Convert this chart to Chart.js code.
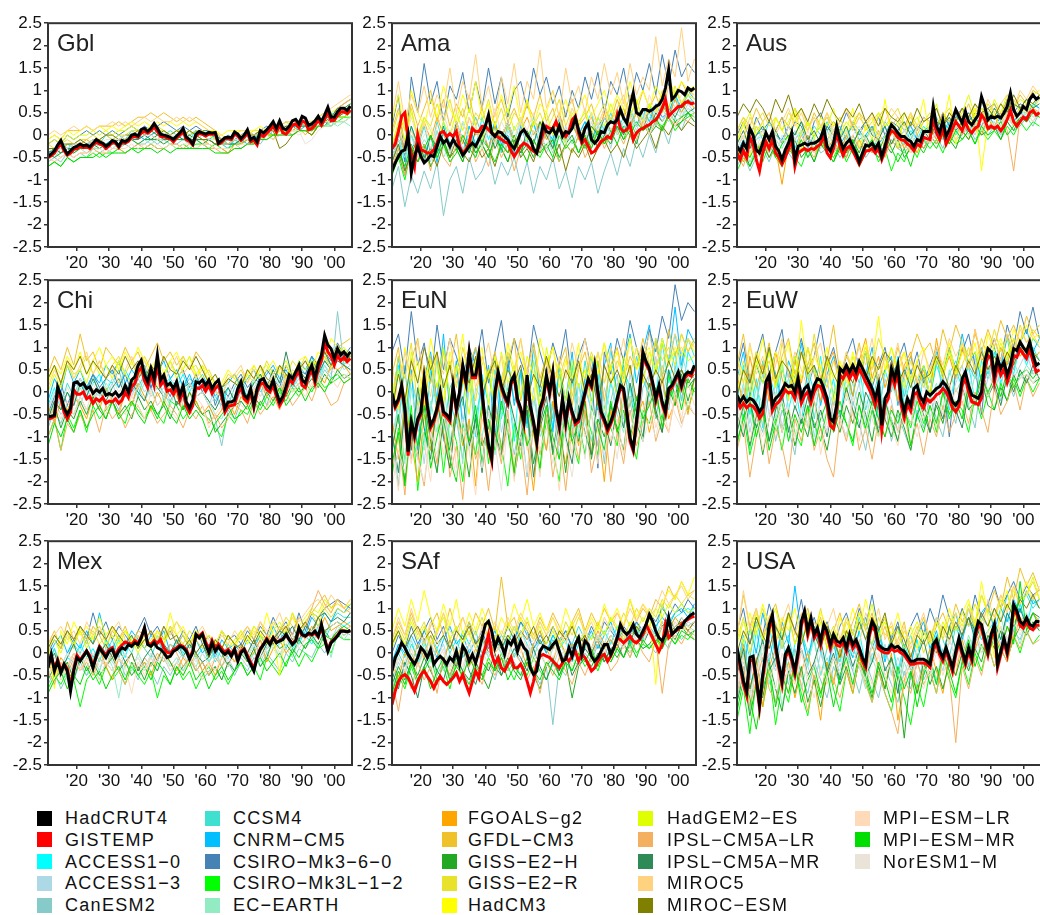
<!DOCTYPE html>
<html>
<head>
<meta charset="utf-8">
<script src="https://cdn.jsdelivr.net/npm/chart.js@4.4.1/dist/chart.umd.min.js"></script>
<style>
html,body{margin:0;padding:0;background:#fff;}
#wrap{position:relative;width:1040px;height:915px;overflow:hidden;background:#fff;font-family:'Liberation Sans',Arial,sans-serif;}
canvas{position:absolute;}
.ptitle{position:absolute;font-size:24px;line-height:24px;color:#222;white-space:nowrap;}
.sw{position:absolute;width:15px;height:15px;}
.lt{position:absolute;font-size:18px;line-height:18px;letter-spacing:1.3px;color:#111;white-space:nowrap;}
</style>
</head>
<body>
<div id="wrap"></div>
<script>
// ---------------- axes / categories ----------------
const firstYear = 1911, lastYear = 2005;
const modelYears = [1911,1913,1915,1917,1919,1921,1923,1925,1927,1929,1931,1933,1935,1937,1939,1941,1943,1945,1947,1949,1951,1953,1955,1957,1959,1961,1963,1965,1967,1969,1971,1973,1975,1977,1979,1981,1983,1985,1987,1989,1991,1993,1995,1997,1999,2001,2003,2005];
const xTickYears = [1920,1930,1940,1950,1960,1970,1980,1990,2000];
const xTickLabels = ["'20","'30","'40","'50","'60","'70","'80","'90","'00"];
const yTickValues = [-2.5,-2,-1.5,-1,-0.5,0,0.5,1,1.5,2,2.5];
const panelNames = ["Gbl","Ama","Aus","Chi","EuN","EuW","Mex","SAf","USA"];

const obsNames = ["HadCRUT4","GISTEMP"];
const obsColors = ["#000000","#ff0000"];
const modelNames = ["ACCESS1-0","ACCESS1-3","CanESM2","CCSM4","CNRM-CM5","CSIRO-Mk3-6-0","CSIRO-Mk3L-1-2","EC-EARTH","FGOALS-g2","GFDL-CM3","GISS-E2-H","GISS-E2-R","HadCM3","HadGEM2-ES","IPSL-CM5A-LR","IPSL-CM5A-MR","MIROC5","MIROC-ESM","MPI-ESM-LR","MPI-ESM-MR","NorESM1-M"];
const modelColors = ["#00ffff","#add8e6","#86cbc9","#40e0d0","#00bfff","#4682b4","#00ff00","#93ebc4","#ffa500","#efc22b","#22a822","#e8e22a","#ffff00","#dfff00","#f4b060","#2e8b57","#ffd280","#808000","#ffdab9","#00dd00","#eae3d8"];

// ---------------- Gbl ----------------
const gblHadCRUT4 = [-.48,-.42,-.35,-.22,-.12,-.30,-.42,-.35,-.28,-.25, -.20,-.24,-.22,-.26,-.18,-.10,-.15,-.18,-.25,-.20, -.12,-.15,-.25,-.12,-.15,-.10,0,.02,-.02,.12, .15,.08,.15,.26,.15,.02,0,-.02,-.05,-.10, -.02,.05,.15,-.05,-.10,-.20,.02,.08,.05,.02, .06,.05,.06,-.18,-.12,-.06,-.05,-.06,.07,.02, -.08,0,.12,-.10,-.05,-.15,.10,.05,.12,.20, .30,.15,.32,.15,.12,.20,.32,.35,.25,.42, .38,.22,.25,.32,.42,.30,.45,.62,.40,.40, .52,.60,.60,.55,.65];
const gblGISTEMP = [-.50,-.46,-.40,-.28,-.20,-.35,-.45,-.40,-.32,-.30, -.25,-.28,-.26,-.30,-.22,-.15,-.20,-.22,-.30,-.24, -.16,-.18,-.28,-.16,-.18,-.14,-.05,-.03,-.05,.05, .08,.04,.10,.18,.08,-.03,-.04,-.06,-.08,-.15, -.06,0,.08,-.10,-.14,-.22,-.02,.04,.02,-.02, .02,.02,.02,-.20,-.16,-.08,-.08,-.10,.02,-.02, -.12,-.05,.05,-.15,-.12,-.22,.02,-.03,.04,.12, .20,.06,.22,.05,.02,.10,.22,.25,.16,.32, .28,.12,.15,.22,.34,.22,.35,.52,.32,.33, .45,.52,.52,.48,.56];
const gblModels = [
[-.4,-.3,-.3,-.2,-.3,-.2,-.3,-.2,-.1,-.2,-.1,-.2,-.1,0,-.1,0,.1,0,.1,0,.1,0,-.1,.1,0,.1,-.1,-.2,-.1,-.2,-.1,0,-.1,.1,0,.1,.2,.1,.2,.3,.2,.1,.3,.4,.5,.4,.6,.6],
[-.4,-.5,-.3,-.4,-.3,-.3,-.2,-.3,-.2,-.3,-.2,-.1,-.2,-.1,0,-.1,0,-.1,.1,0,-.1,0,.1,-.1,0,-.1,0,-.2,-.3,-.1,-.2,-.1,0,-.1,.1,0,.1,.2,.1,.2,.3,.1,.2,.4,.3,.5,.5,.7],
[-.6,-.5,-.6,-.4,-.5,-.4,-.5,-.3,-.4,-.3,-.4,-.3,-.2,-.3,-.2,-.2,-.1,-.2,-.1,-.2,-.2,-.1,-.2,-.1,-.2,-.2,-.3,-.3,-.4,-.2,-.3,-.2,-.1,-.2,0,-.1,0,.1,0,.1,.1,0,.2,.3,.2,.4,.5,.7],
[-.3,-.4,-.2,-.3,-.2,-.1,-.2,-.1,-.2,0,-.1,0,-.1,.1,0,.1,0,.1,0,.1,0,.1,0,.1,0,-.1,-.1,-.2,-.3,-.1,-.2,0,-.1,.1,0,.1,.2,.1,.2,.3,.2,.3,.4,.5,.4,.6,.7,.8],
[-.4,-.3,-.4,-.3,-.2,-.3,-.2,-.2,-.1,-.2,-.1,-.2,-.1,-.1,0,-.1,0,.1,0,-.1,0,-.1,0,.1,0,-.1,0,-.1,-.2,-.2,-.1,-.2,0,-.1,.1,0,.1,.1,.2,.1,.2,.1,.2,.3,.3,.4,.4,.5],
[-.2,-.1,-.2,0,-.1,0,.1,0,.1,0,.1,0,.1,.2,.1,.2,.1,.2,.3,.2,.1,.2,.1,.2,.1,.1,0,-.1,0,-.1,0,.1,0,.1,.2,.1,.2,.3,.2,.3,.3,.2,.3,.2,.4,.4,.5,.5],
[-.7,-.6,-.7,-.5,-.6,-.5,-.5,-.4,-.5,-.4,-.4,-.3,-.4,-.3,-.3,-.3,-.2,-.3,-.3,-.2,-.3,-.2,-.3,-.2,-.2,-.3,-.2,-.3,-.3,-.2,-.2,-.1,-.2,-.1,0,0,0,.1,0,.1,.1,.2,.2,.2,.3,.3,.4,.4],
[-.5,-.4,-.5,-.4,-.4,-.3,-.4,-.3,-.3,-.2,-.3,-.2,-.2,-.1,-.2,-.1,-.2,-.1,-.1,-.2,-.1,-.1,-.2,-.1,-.1,-.1,-.2,-.2,-.2,-.1,-.1,-.1,0,0,0,.1,0,.1,.1,.2,.2,.1,.2,.2,.3,.2,.3,.2],
[-.3,-.3,-.4,-.2,-.2,-.2,-.1,-.2,-.1,-.2,-.2,-.1,-.1,0,0,.1,0,-.1,0,-.1,0,.1,-.1,0,-.1,-.2,-.3,-.3,-.4,-.2,-.2,-.1,-.1,0,0,.1,.1,.2,.1,.2,.2,.1,.3,.4,.4,.5,.5,.6],
[-.1,0,-.1,.1,.1,.1,.2,.1,.2,.2,.2,.3,.2,.3,.4,.4,.5,.4,.5,.4,.3,.4,.3,.4,.3,.2,.1,-.1,-.2,-.1,-.1,0,0,.1,0,-.1,.1,.2,.1,.2,0,.2,.3,.4,.4,.6,.7,.8],
[-.4,-.5,-.4,-.3,-.4,-.3,-.3,-.2,-.3,-.2,-.2,-.2,-.2,-.1,-.2,-.1,-.1,-.1,-.2,-.1,-.1,-.1,-.1,-.1,-.2,-.1,-.2,-.2,-.2,-.1,-.1,-.1,-.1,0,0,0,.1,.1,.1,.1,.1,0,.2,.3,.3,.4,.4,.5],
[-.2,-.3,-.2,-.1,-.2,-.1,-.1,0,-.1,0,-.1,0,0,.1,.1,.1,.1,.2,.1,0,.1,.1,0,.1,.1,0,-.1,-.1,-.1,0,0,0,.1,.1,.1,.1,.2,.2,.2,.2,.2,.1,.3,.4,.4,.5,.5,.6],
[-.1,0,-.1,.1,0,.1,.2,.1,.2,.1,.2,.1,.2,.3,.2,.3,.2,.3,.2,.3,.2,.3,.2,.3,.2,.1,.1,0,.1,.1,.1,.1,.1,.2,.1,.2,.2,.3,.2,.3,.3,.3,.4,.5,.5,.6,.6,.7],
[-.2,-.1,-.2,0,-.1,0,0,.1,0,.1,0,.1,.1,.2,.1,.1,.2,.1,.1,0,.1,0,.1,0,.1,0,-.1,-.2,-.2,-.1,-.1,-.1,0,0,0,0,.1,.1,.1,.1,.1,0,.2,.3,.3,.4,.4,.5],
[-.5,-.6,-.5,-.4,-.5,-.4,-.4,-.3,-.4,-.4,-.3,-.3,-.4,-.3,-.2,-.3,-.2,-.3,-.3,-.2,-.2,-.3,-.2,-.3,-.2,-.3,-.3,-.4,-.4,-.3,-.3,-.2,-.2,-.1,-.1,0,0,.1,0,.1,.1,.1,.2,.4,.4,.6,.7,.8],
[-.4,-.3,-.4,-.3,-.3,-.2,-.3,-.2,-.2,-.2,-.2,-.1,-.2,-.1,-.1,0,-.1,0,-.1,-.1,0,-.1,0,-.1,-.1,-.1,-.2,-.2,-.2,-.2,-.1,-.1,0,0,.1,.1,.1,.2,.2,.2,.2,.2,.3,.4,.4,.6,.6,.7],
[0,.1,0,.1,.2,.1,.2,.1,.2,.2,.3,.2,.3,.2,.3,.4,.3,.4,.3,.3,.4,.3,.4,.3,.2,.1,0,0,-.1,0,.1,.1,0,.1,.1,.2,.2,.3,.3,.3,.3,.3,.4,.5,.6,.7,.8,.9],
[-.3,-.3,-.2,-.2,-.2,-.1,-.2,-.1,-.1,0,0,-.1,0,0,.1,0,.1,0,.1,0,.1,0,.1,0,-.1,-.1,-.2,-.2,-.2,-.1,-.1,0,0,.1,0,.1,-.3,-.2,0,.1,.1,0,.2,.3,.4,.4,.5,.6],
[-.5,-.6,-.5,-.4,-.5,-.4,-.4,-.4,-.3,-.4,-.3,-.3,-.3,-.2,-.3,-.2,-.3,-.2,-.3,-.2,-.3,-.2,-.2,-.3,-.2,-.2,-.3,-.3,-.3,-.3,-.2,-.2,-.1,-.1,0,-.1,0,0,.1,0,.1,.1,.2,.3,.3,.5,.5,.6],
[-.7,-.6,-.7,-.5,-.6,-.5,-.5,-.5,-.4,-.5,-.4,-.4,-.4,-.3,-.4,-.3,-.3,-.4,-.3,-.4,-.3,-.3,-.3,-.3,-.3,-.3,-.4,-.4,-.4,-.3,-.3,-.2,-.2,-.1,-.1,0,0,0,0,.1,.1,.1,.2,.2,.2,.3,.3,.4],
[-.3,-.4,-.3,-.3,-.2,-.2,-.2,-.1,-.2,-.1,-.1,-.1,0,-.1,0,0,0,-.1,0,0,0,0,-.1,0,0,-.1,-.1,-.2,-.2,-.1,-.1,-.1,0,0,0,.1,.1,0,.1,.1,-.2,-.1,.1,.2,.2,.3,.3,.4]
];

// ---------------- Ama ----------------
const amaHadCRUT4 = [-.80,-.62,-.48,-.36,-.33,0,-.85,-.48,-.25,-.48, -.62,-.55,-.45,-.48,-.25,-.03,-.18,-.10,-.25,-.10, -.22,-.30,-.45,-.36,-.25,-.18,-.25,-.10,.05,.20, .45,.05,-.03,.08,.05,-.03,-.10,-.22,-.30,-.14, .05,.12,0,-.10,-.30,-.40,-.10,.23,.08,.05, .15,0,.20,-.03,.08,.05,.15,.38,.12,-.10, .15,.27,-.10,-.18,-.10,.08,.05,.23,.30,.27, .34,.57,.38,.27,.64,.94,.50,.45,.57,.57, .53,.57,.64,.68,.80,1.05,1.46,.80,.87,1.0, .97,.90,1.05,1.0,1.05];
const amaGISTEMP = [-.30,-.20,.08,.42,.50,-.10,-.40,-.70,0,-.33, -.36,-.40,-.40,-.33,-.18,.05,.08,-.03,.03,-.03, .08,-.25,-.40,-.33,-.18,.15,.08,.08,.20,.20, .12,.05,0,-.05,-.10,-.15,-.18,-.35,-.48,-.36, -.25,-.18,-.22,-.30,-.36,-.40,-.18,.05,.20,.15, .15,.30,.12,.05,-.03,.08,.34,.42,.05,-.18, -.10,-.25,-.40,-.36,-.25,-.14,-.10,-.03,-.07,.12, .45,.15,.08,.12,.23,-.10,.05,.12,.15,.20, .23,.30,.34,.45,.60,.80,.42,.50,.57,.64, .64,.72,.75,.70,.72];
const amaModels = [
[-.5,-.1,-.6,.2,-.3,-.5,0,-.4,.3,-.2,0,-.4,.2,-.3,.4,-.1,.3,-.3,.2,-.2,.4,-.1,.3,-.3,.2,-.2,.4,0,.3,-.1,.2,.5,-.1,.4,0,.5,.1,.6,.2,.4,.7,.2,.8,.4,.9,.5,.8,.7],
[-.8,-.3,-.7,0,-.5,-.2,-.6,.1,-.3,-.5,.1,-.3,-.1,-.5,.2,-.3,0,-.4,.1,-.2,-.5,.1,-.2,.2,-.4,0,-.3,.2,-.2,.1,-.2,.3,-.1,.2,-.3,.3,0,.4,.1,.5,.2,.6,.3,.5,.8,.4,.7,.5],
[-1.2,-.7,-1.6,-.9,-1.3,-.8,-1.2,-.6,-1.8,-1.0,-.7,-1.3,-.5,-1.0,-.8,-.4,-1.1,-.6,-.9,-.5,-1.1,-.6,-1.3,-.7,-1.0,-.5,-1.2,-.8,-1.4,-.7,-1.0,-.6,-1.3,-.8,-.4,-.9,-.3,-.7,-.1,-.5,0,-.4,.2,-.2,.4,.1,.5,.3],
[-.4,.1,-.5,0,-.3,.2,-.4,.3,-.2,.1,-.3,.3,-.1,.4,0,-.3,.2,-.4,.3,-.1,.3,-.2,.4,0,.2,-.3,.3,-.1,.4,0,.3,-.2,.4,.1,.5,.1,.4,.2,.6,.3,.5,.2,.7,.4,.8,.6,.9,.7],
[-.6,-.2,-.8,-.3,-.1,-.5,0,-.6,.1,-.3,-.1,-.5,.2,-.2,.1,-.3,.3,-.2,0,-.4,.2,-.2,.3,-.3,.1,-.1,.4,-.2,.2,0,.3,-.1,.2,.4,0,.4,.1,.5,.2,.6,.3,.7,.4,.5,.9,.6,1.0,.8],
[.2,.9,-.6,1.3,.5,1.6,.7,1.2,.3,1.1,.8,1.4,.5,1.2,.6,1.5,.7,1.3,.4,1.0,1.2,.6,1.5,.9,1.3,.7,1.1,.4,1.0,.6,1.3,.8,1.4,.5,1.2,.9,1.5,.7,1.4,1.0,1.6,.9,1.8,1.1,1.9,1.3,1.6,1.4],
[-.9,-.5,-1.0,-.3,-.6,-.2,-.7,-.4,-.1,-.5,-.3,-.6,0,-.4,-.2,-.5,-.1,-.3,-.6,-.2,-.4,0,-.3,-.5,-.2,-.1,-.6,-.2,-.4,0,-.3,-.1,.1,-.2,0,.2,-.1,.3,0,.2,.1,.3,.2,.4,.1,.3,.4,.5],
[-.6,-.2,-.5,0,-.4,-.1,-.3,.1,-.5,-.2,0,-.4,-.1,.2,-.3,.1,-.2,0,-.4,.2,-.1,-.3,.1,-.2,0,-.4,.1,-.2,.3,-.1,.1,-.3,.2,-.1,.4,0,.3,.1,.5,.2,.4,.2,.6,.3,.5,.4,.6,.5],
[-.3,.2,-.4,.1,-.2,.3,-.1,.4,0,-.3,.2,-.2,.4,0,.1,-.3,.2,-.1,.3,-.2,.1,.4,0,.3,-.1,.2,.5,0,.3,-.1,.2,.4,0,.5,.1,.3,.6,.2,.5,.1,.6,.3,.7,.4,.8,.5,.8,.6],
[.1,.6,-.2,.7,.2,.6,1.0,.3,.8,.2,.7,.4,.9,.2,.6,.1,.5,.8,.3,.6,.2,.7,.4,.9,.3,.6,.1,.5,.8,.2,.4,.7,.2,.6,.3,.8,.4,.9,.5,1.0,.6,.9,.5,1.1,.8,1.2,.9,1.0],
[-.8,-.4,-.9,-.3,-.6,-.2,-.7,-.4,-.1,-.5,-.3,-.6,-.1,-.4,-.2,-.5,0,-.3,-.6,-.1,-.4,-.2,-.5,0,-.3,-.1,-.5,-.2,0,-.4,-.1,.1,-.3,0,-.2,.2,-.1,.1,-.2,.3,0,.2,.1,.4,.2,.3,.5,.3],
[0,.5,.1,.6,-.1,.4,.2,.7,.3,.8,.2,.6,0,.5,.3,.8,.2,.6,.1,.5,.3,.7,.2,.5,.1,.4,.8,.2,.6,.3,.5,0,.4,.7,.3,.6,.9,.4,.8,.3,.7,.5,1.0,.6,1.1,.7,1.0,.9],
[.3,.9,.1,1.0,.5,.2,.8,.4,1.1,.6,.3,.9,.5,1.2,.4,.7,.2,.9,.5,1.1,.3,.8,.2,.7,.5,1.0,.4,.8,.3,.6,.9,.4,.7,1.0,.5,.9,.6,1.2,.7,1.0,.6,1.1,.8,1.3,.9,1.2,1.0,1.1],
[-.2,.3,-.1,.5,0,.4,.1,-.2,.3,0,.5,.1,.6,.2,-.1,.4,0,.3,.6,.1,.4,-.1,.3,.2,.5,0,.3,-.2,.5,.2,.6,.1,.4,.2,.7,.3,.6,.4,.8,.3,.7,.5,.9,.6,1.0,.7,.9,.8],
[-.7,-.3,-.9,-.4,-.6,-.2,-.8,-.1,-.5,-.7,-.2,-.4,0,-.6,-.3,-.7,-.1,-.5,-.2,-.8,-.3,-.6,-.1,-.4,.1,-.3,-.6,-.2,-.4,0,-.5,-.2,.1,-.3,0,.1,-.2,.2,-.1,.3,0,.3,.1,.4,.2,.4,.3,.5],
[-.5,-.1,-.4,.2,-.2,-.6,0,-.3,.2,-.4,.3,-.1,-.4,.1,-.2,.2,-.3,0,.3,-.1,-.4,.1,-.2,.3,0,-.3,.2,-.1,.3,.1,-.2,.2,0,.4,.1,.3,0,.5,.2,.4,.1,.5,.3,.6,.4,.7,.5,.6],
[.4,1.2,.3,.9,.5,1.1,.4,.9,.6,1.5,.5,1.2,.8,1.8,.6,1.1,.4,1.3,.7,1.6,.5,1.2,.8,1.9,.6,1.0,.4,1.5,.7,1.1,.5,1.3,.8,1.6,.9,1.4,.7,1.6,.9,1.3,1.0,2.2,1.1,1.7,1.3,2.4,1.2,1.7],
[-.6,-.2,-.8,-.4,-.1,-.5,-.3,-.7,-.2,-.5,-.1,-.4,-.6,-.2,-.5,-.3,-.7,-.2,-.4,0,-.5,-.3,-.6,-.1,-.4,-.6,-.2,-.8,-.3,-.5,-.2,-.6,-.3,-.1,-.4,-.2,-.5,0,-.3,-.1,.1,-.3,.2,0,.3,.1,.3,.2],
[-.4,.1,-.2,.4,-.1,.3,-.3,.2,.5,0,.3,-.1,.4,.1,-.3,.2,.6,0,.3,-.1,.4,.1,.5,-.2,.3,.1,.4,-.1,.6,.2,-.2,.5,.2,.6,.1,.4,.8,.3,.6,.2,.9,.5,.7,1.1,.6,.9,1.1,.8],
[-.9,-.4,-.7,-.2,-.6,-.3,0,-.5,-.2,-.6,-.4,0,-.3,-.5,-.1,-.3,-.6,-.2,-.4,0,-.3,-.6,-.1,-.4,-.2,-.5,0,-.3,-.1,-.4,0,-.3,.1,-.2,.1,-.2,.2,0,.3,.1,.2,.4,.1,.5,.3,.4,.5,.4],
[-.5,-.1,-.4,.1,-.3,0,.2,-.2,.1,-.4,0,.3,-.1,.2,-.3,.1,-.2,.3,0,-.1,.3,-.2,.1,0,-.3,.2,0,-.2,.3,.1,-.1,.3,.1,.4,0,.3,.1,.5,.2,.4,0,.4,.3,.6,.2,.5,.6,.4]
];

// ---------------- Aus ----------------
const ausHadCRUT4 = [-.25,-.36,-.18,-.30,.15,0,-.33,-.40,-.18,.05, -.10,.08,-.25,-.36,-.55,-.33,-.18,.05,-.55,-.25, -.22,-.18,-.22,-.18,-.18,-.14,-.07,.15,-.25,-.36, -.18,.20,-.10,-.30,-.18,-.10,-.25,-.40,-.60,-.40, -.22,-.25,-.18,-.30,-.18,-.48,-.25,.05,.23,.15, .05,-.03,-.03,-.10,-.14,-.25,-.10,-.14,.08,.08, .08,.64,.20,.05,.34,-.03,.12,.34,.57,.42, .27,.53,.30,.23,.34,.45,.86,.64,.34,.42, .38,.42,.38,.50,.64,.94,.57,.42,.50,.64, .57,.80,.90,.80,.85];
const ausGISTEMP = [-.40,-.55,-.35,-.50,-.05,-.20,-.55,-.80,-.40,-.15, -.30,-.10,-.40,-.50,-.65,-.50,-.30,-.10,-.70,-.40, -.35,-.30,-.35,-.30,-.32,-.25,-.20,0,-.40,-.50, -.30,.05,-.25,-.45,-.30,-.25,-.35,-.50,-.65,-.50, -.35,-.35,-.30,-.40,-.30,-.55,-.35,-.05,.10,.05, -.05,-.10,-.12,-.20,-.25,-.35,-.20,-.25,-.05,-.08, -.10,.40,.05,-.10,.15,-.20,-.05,.15,.30,.20, .10,.30,.12,.05,.15,.20,.45,.35,.15,.20, .15,.20,.10,.20,.35,.55,.30,.20,.30,.40, .35,.50,.55,.45,.50];
const ausModels = [
[-.5,-.2,-.4,-.1,0,-.3,.1,-.2,0,-.3,.1,-.2,0,.2,-.1,-.3,0,.1,-.2,.1,-.1,-.4,0,.2,-.2,0,-.2,.1,-.1,.2,0,.2,-.1,.3,0,.3,.1,.4,.1,.3,.4,.2,.6,.3,.5,.5,.7,.6],
[-.6,-.3,-.1,-.4,-.2,0,-.3,-.1,-.2,.1,-.2,0,-.3,-.1,.2,-.1,.1,-.2,0,-.3,-.1,.1,-.2,0,.1,-.3,-.1,.2,0,-.2,.1,-.1,.3,0,.2,.1,.3,0,.4,.2,.3,.1,.5,.3,.4,.6,.4,.5],
[-.7,-.4,-.8,-.5,-.3,-.6,-.2,-.5,-.4,-.6,-.2,-.5,-.1,-.4,-.3,-.2,-.5,-.3,-.4,-.1,-.5,-.3,-.2,-.4,-.1,-.3,-.4,-.2,0,-.3,-.1,0,-.3,.1,-.1,0,.2,-.1,.1,0,.2,0,.3,.1,.2,.4,.2,.5],
[-.3,0,-.2,.2,-.1,.3,0,-.2,.2,0,.3,-.1,.2,0,.3,0,.2,-.1,.3,.1,-.1,.2,0,.3,.1,.3,.1,-.1,.2,0,.2,.4,.1,.3,.5,.2,.4,.3,.5,.3,.6,.3,.7,.4,.6,.8,.6,.9],
[-.4,-.1,-.3,0,.1,-.2,0,-.1,.2,-.1,.1,-.3,0,.2,-.1,.1,-.2,0,.2,-.1,0,.2,-.2,0,.1,-.1,.1,.2,-.1,.1,.2,0,.3,.1,.4,.3,0,.4,.2,.5,.2,.4,.6,.3,.5,.4,.7,.6],
[0,.3,-.1,.4,.1,.3,.1,.4,-.1,.3,.2,-.2,.3,.5,.1,.3,.1,.5,.2,0,.3,.1,.4,0,.3,.2,-.1,.3,.1,.4,.3,.1,.5,.2,.4,.6,.3,.5,.4,.6,.7,.4,.8,.5,.7,.6,.9,.8],
[-.8,-.5,-.7,-.3,-.6,-.2,-.5,-.7,-.3,-.5,-.7,-.3,-.6,-.1,-.4,-.5,-.2,-.6,-.3,-.7,-.4,-.2,-.6,-.3,-.8,-.4,-.6,-.2,-.5,-.1,-.3,-.1,-.4,0,-.2,-.1,.1,-.2,.1,-.1,.1,-.1,.2,0,.3,.1,.3,.2],
[-.5,-.2,-.6,-.3,-.1,-.4,-.1,-.3,0,-.4,-.2,-.4,-.1,-.3,.1,-.2,-.4,0,-.2,.1,-.3,-.1,-.4,0,-.2,.1,-.3,0,-.2,.1,0,.2,-.1,.1,0,.2,0,.3,.1,.2,.3,0,.4,.2,.3,.5,.3,.5],
[-.3,-.6,-.2,-.4,-.1,-.5,-.3,-1.1,-.2,-.5,-.3,0,-.4,-.2,-.3,-.1,-.4,0,-.3,-.1,-.4,-.2,.1,-.3,-.2,0,-.3,-.1,-.4,0,.2,-.1,.1,-.2,.3,.1,-.1,.3,0,.4,.1,.3,.5,.2,.4,.3,.6,.5],
[.1,.4,.2,.6,.3,.5,.1,.4,.2,.6,.3,.1,.5,.2,.4,.1,.3,.6,.2,.5,.3,.1,.4,.6,.2,.4,.2,.5,0,.3,.4,.2,.5,.3,.6,.4,.7,.3,.6,.5,.7,.4,.8,.6,.9,.7,1.0,.9],
[-.6,-.3,-.7,-.4,-.2,-.5,-.2,-.6,-.4,-.1,-.5,-.3,-.6,-.2,-.4,-.6,-.3,-.5,-.1,-.4,0,-.3,-.5,-.2,-.4,-.1,-.5,-.3,-.1,-.3,0,-.2,.1,-.1,-.3,.1,-.1,.2,0,.1,.2,-.1,.3,.1,.4,.3,.5,.4],
[.1,.4,0,.3,.5,.2,.4,.1,.5,.3,.6,.2,.4,.1,.5,.2,.4,0,.3,.5,.1,.3,.5,.2,.4,.6,.2,.4,.1,.3,.5,.2,.4,.6,.3,.2,.4,.6,.3,.7,.5,.7,.4,.8,.5,.7,.6,.8],
[-.2,.3,-.5,.2,0,-.3,.4,.1,-.1,.5,-.4,.3,0,.2,-.2,.3,-.1,.1,.6,-.3,.2,.4,-.2,.8,0,.3,-.1,.5,.2,.8,-.1,.3,.2,.9,-.2,.4,.1,.6,-.8,.3,.5,.1,.7,.4,.6,.5,.7,.9],
[-.1,.2,.5,0,.3,-.2,.4,.1,.3,.6,0,.3,-.1,.4,.2,.6,0,.3,.1,.4,.2,-.1,.5,.2,.3,-.3,.5,.2,.4,.1,.3,.7,.1,.5,.3,.5,.9,.4,.6,.3,.8,.5,.9,.6,.8,.7,.9,1.0],
[-.4,-.7,-.2,-.5,-.3,-.1,-.4,-.6,-.2,-.4,0,-.3,-.5,-.1,-.3,-.4,-.2,-.5,0,-.3,-.1,-.4,-.2,-.5,-.1,-.3,-.2,-.4,-.1,-.3,0,-.2,.1,-.1,.2,0,.3,.1,.2,.4,.2,.5,.1,-.8,.4,.5,.6,.4],
[-.2,.1,-.3,0,.2,-.1,.1,-.2,.2,0,.3,-.1,.1,-.2,.2,0,-.1,.2,-.2,.1,.3,0,-.1,.2,-.2,.1,.3,0,.2,.1,-.1,.3,.2,.4,.1,.3,.5,.2,.4,.3,.6,.4,.5,.7,.6,.8,.6,.7],
[.2,-.1,.4,.1,.3,.5,0,.3,.6,.2,.5,.1,.4,.2,.5,0,.3,.6,.1,.4,.2,.5,0,.3,.6,.4,.1,.5,.2,.4,.3,.6,.2,.5,.3,.6,.4,.7,.3,.8,.5,.7,.9,.6,1.0,.8,1.1,.9],
[.4,.7,.5,.8,.6,.3,.8,.5,.9,.4,.6,.3,.7,.4,.8,.5,.3,.6,.4,.7,.3,.5,.2,.6,.4,.3,.5,.2,.6,.3,.4,.6,.2,.5,.3,.6,.4,.7,.5,.6,.4,.7,.5,.9,.6,.8,.7,.9],
[-.3,0,-.4,-.1,.1,-.3,0,-.2,.2,-.1,-.3,.1,-.2,0,-.3,.1,-.1,-.3,0,.2,-.1,-.3,0,-.2,.1,-.2,0,-.4,-.1,.1,-.2,.1,0,.2,-.1,.2,0,.3,.1,.4,.2,.3,.5,.2,.4,.5,.3,.6],
[-.6,-.3,-.5,-.2,-.4,-.1,-.5,-.2,0,-.4,-.1,-.5,-.3,0,-.4,-.6,-.2,-.4,-.1,-.5,-.3,-.1,-.4,0,-.3,-.6,-.3,-.7,-.2,-.4,-.1,-.3,0,-.2,.1,-.1,.1,-.2,.2,0,.1,.3,0,.2,.4,.3,.5,.4],
[-.2,-.5,0,-.3,.1,-.2,-.4,0,-.3,-.1,.1,-.2,-.4,0,-.2,.2,-.1,.1,-.3,0,-.1,.1,-.3,0,.2,-.1,.1,-.2,.2,0,-.2,.1,.3,0,.2,.1,.3,.2,.4,.1,.3,.2,.5,.3,.4,.6,.4,.6]
];

// ---------------- Chi ----------------
const chiHadCRUT4 = [-.55,-.54,-.52,.12,-.07,-.36,-.50,-.36,.20,.23, .15,.20,.08,.12,-.03,.05,0,.08,-.07,-.03, -.07,0,-.10,-.03,.15,0,.27,.34,.60,.71, .38,.23,.53,.30,.83,.27,.38,.15,.20,.08, .23,-.07,.15,-.22,-.36,-.18,.23,.20,.27,.15, .27,.08,.20,.27,0,-.36,-.22,-.22,-.18,.08, .23,-.07,-.14,.08,-.29,.08,.27,.30,.15,.08, .27,0,-.22,-.10,.12,.38,.30,.45,.60,.27, .20,.45,.60,.30,.64,.83,1.27,1.05,.97,.75, .97,.83,.90,.80,.90];
const chiGISTEMP = [-.60,-.58,-.55,0,-.15,-.45,-.60,-.45,.05,-.05, -.05,0,-.15,-.10,-.25,-.15,-.20,-.12,-.25,-.20, -.22,-.15,-.25,-.18,0,-.12,.12,.20,.45,.55, .25,.10,.40,.15,.65,.15,.25,.02,.05,-.05, .10,-.18,.02,-.32,-.45,-.30,.10,.08,.15,.02, .15,-.03,.08,.15,-.10,-.45,-.32,-.30,-.28,-.03, .10,-.15,-.22,0,-.35,0,.18,.20,.05,0, .15,-.10,-.30,-.18,.03,.28,.20,.35,.48,.15, .10,.35,.50,.20,.52,.70,1.10,.90,.80,.60, .82,.70,.78,.68,.75];
const chiModels = [
[-.3,.1,-.4,0,-.2,.3,-.1,.2,.4,0,.3,.1,.5,.2,-.1,.4,.1,.5,.2,.3,.1,.4,0,.3,.1,.3,-.1,-.3,.1,-.2,.2,-.1,.3,0,.2,.4,.1,.3,.1,.4,.2,.6,.3,.7,.5,.8,.6,.9],
[-.6,-.2,-.5,-.3,0,-.3,.1,-.2,0,-.1,.2,-.2,.1,-.1,.3,0,.2,-.1,.1,-.2,.1,-.2,.2,-.1,0,-.3,.1,-.4,-.1,-.3,0,-.2,.1,.3,-.1,.2,0,.4,.1,.3,.2,.5,.3,.6,.4,.8,.5,.6],
[-.8,-.4,-.7,-.3,-.5,-.1,-.4,-.2,.1,-.3,-.1,-.4,0,-.3,.1,-.2,.1,-.3,-.1,-.2,.1,-.3,-.5,-.1,0,-.3,-.6,-1.2,-.4,-.6,-.2,-.4,-.1,.1,-.3,.2,-.1,.3,0,.2,.1,.4,.2,.5,.3,1.8,.6,.5],
[-.4,0,-.3,.2,-.1,.3,.1,.4,-.1,.3,.2,.5,0,.3,.1,.4,.2,.5,-.2,.3,.5,.1,.3,.2,.4,.1,-.2,.1,-.3,.1,.3,0,.2,.4,.1,.5,.2,.4,.3,.6,.4,.7,.5,.8,.6,1.0,.8,.9],
[-.2,.3,0,.6,.2,.5,.1,.4,.2,.6,.4,.7,.2,.5,.3,.6,.1,.4,.7,.3,.5,.1,.4,0,.3,.2,-.1,.1,.2,.4,.1,.3,.5,.2,.4,.6,.3,.5,.2,.7,.5,.8,.4,.9,.6,.9,.7,.8],
[-.5,-.1,.2,-.3,.1,.3,0,.4,.1,.3,.5,.1,.4,0,.3,.5,.1,.4,.2,-.1,.3,.5,.1,.4,0,.3,-.3,.1,-.1,.2,.4,.1,.3,.2,.5,.3,.1,.6,.3,.5,.4,.8,.6,.9,.7,1.1,.8,1.0],
[-1.0,-.6,-1.3,-.5,-.8,-.4,-.9,-.3,-.6,-.4,-.2,-.5,-.7,-.2,-.4,-.6,-.3,-.5,-.7,-.2,-.3,-.6,-.4,-.2,-.5,-.6,-.8,-1.0,-.5,-.7,-.4,-.5,-.2,-.4,-.1,-.3,0,-.2,.1,-.1,.2,0,.3,.1,.2,.3,.4,.3],
[-.5,-.2,-.4,0,-.3,.1,-.2,0,-.3,.2,0,-.3,.1,.2,-.1,.2,-.1,.1,0,-.3,.1,-.2,.2,-.1,0,-.2,-.5,-.6,-.3,-.1,0,-.3,.1,-.1,.2,.1,-.1,.2,.4,.1,.3,.5,.2,.6,.3,.4,.6,.8],
[-.3,-.7,-.2,-.4,-.1,-.3,-.6,-.1,-.4,.1,-.2,-.5,0,-.3,.2,-.1,-.4,0,-.3,.2,-.1,-.4,0,-.2,-.5,-.3,-.6,-.4,-.2,-.5,-.1,-.3,0,.2,-.1,.1,-.2,.3,0,.2,.3,.1,.4,.2,.6,.5,.6,.4],
[.4,.8,.5,1.0,.6,1.3,.7,.9,.5,1.0,.8,.6,1.0,.7,.9,.5,.8,1.1,.7,.9,.6,.8,.5,.9,.7,.4,.2,.1,.3,.4,.2,.5,.3,.6,.1,.3,0,.4,.2,.5,.2,.6,.7,.9,.8,1.0,1.1,1.2],
[-.7,-.3,-.8,-.4,-.6,-.2,-.5,-.1,-.4,-.6,-.2,-.5,-.3,-.6,-.1,-.4,-.2,-.5,-.3,-.6,-.2,-.4,0,-.3,-.5,-.4,-.9,-.7,-.5,-.3,-.2,-.4,-.1,-.3,0,-.2,.1,-.1,.2,0,.1,.3,.1,.4,.2,.5,.3,.4],
[.3,.6,.2,.7,.4,.5,.8,.4,.7,.3,.6,.8,.4,.7,.3,.8,.5,.6,.3,.7,.4,.8,.5,.6,.3,.5,.2,.1,.4,.3,.5,.2,.6,.3,.7,.4,.6,.3,.7,.5,.8,.5,.7,.9,.8,1.0,.9,.8],
[.2,.6,.4,.8,.5,.9,.4,.7,1.0,.6,.8,.5,.9,.6,1.0,.7,.5,.8,.4,.7,.9,.5,.8,.3,.6,.4,.1,.2,.5,.3,.1,.4,.6,.3,.5,.7,.4,.6,.3,.7,.8,.5,.9,.7,1.2,1.0,.9,.8],
[0,.4,.1,.6,.3,.5,.2,.7,.4,.6,.3,.7,.4,.2,.5,.3,.6,.1,.4,.7,.3,.5,.8,.4,.6,.2,0,-.1,.3,.2,.1,.4,.2,.5,.6,.3,.5,.7,.4,.6,.5,.7,.6,.8,.5,.9,1.0,.8],
[-1.0,-.6,-1.3,-.7,-.9,-.5,-.8,-.4,-.9,-.3,-.6,-.4,-.8,-.5,-.3,-.6,-.4,-.7,-.5,-.3,-.5,-.8,-.4,-.6,-.3,-.7,-.5,-.8,-.6,-.3,-.4,-.7,-.2,-.5,-.3,-.1,-.4,0,-.3,-.1,.1,-.2,.2,0,-.3,-.2,.2,.3],
[-.6,-.2,-.4,0,-.3,.2,-.1,.3,0,-.2,.1,.3,-.1,.2,0,-.2,.3,.1,-.1,.2,-.3,.1,.2,-.1,0,-.2,-.4,-.1,.1,-.2,.1,-.1,.2,.4,.1,.5,.2,.9,.3,.5,.3,.6,.4,.7,.5,.7,.6,.5],
[.1,.5,.2,.7,.3,.6,.9,.4,.7,.3,.6,.2,.5,.8,.4,.7,.3,.6,.2,.5,.8,.4,.6,.3,.5,.2,0,-.1,.3,.4,.6,.2,.5,.3,.1,.4,.6,.2,.5,.4,.7,.4,.6,.8,.5,.8,.7,.6],
[.3,.6,.2,.7,.5,.8,.4,.7,.5,.3,.6,.4,.8,.5,.7,.3,.6,.4,.8,.5,.4,.7,.5,.8,.5,.2,.4,.1,.3,.2,.1,.5,.3,.6,.3,.2,.6,.4,.2,.5,.7,.4,.7,.9,.6,.8,.7,.8],
[-.7,-.3,-.6,-.2,-.5,-.1,-.4,.1,-.3,-.5,0,-.3,-.5,-.1,-.3,-.6,0,-.3,-.1,-.4,-.6,-.2,-.4,-.1,-.3,-.8,-.5,-.3,-.6,-.1,-.3,-.4,.1,-.2,-.4,.1,-.2,.2,0,.1,-.1,.2,.3,0,.3,.1,.4,.3],
[-1.2,-.7,-1.0,-.6,-.9,-.4,-.8,-.5,-.3,-.6,-.2,-.6,-.4,-.2,-.5,-.7,-.3,-.6,-.2,-.5,-.7,-.3,-.6,-.4,-.6,-1.0,-.7,-.5,-.3,-.6,-.5,-.3,-.6,-.2,-.4,-.2,.1,-.3,-.1,.1,-.2,.1,.2,0,.3,.4,.2,.3],
[-.4,0,-.3,.1,-.2,.3,0,.2,-.1,.1,.3,0,.2,-.1,.1,.3,0,.2,-.1,.2,.3,0,.2,-.1,0,-.3,-.1,0,.2,-.1,.2,0,.3,-.1,.2,.4,.1,.3,0,.2,.3,.1,.4,.3,.5,.4,.3,.5]
];

// ---------------- EuN ----------------
const eunHadCRUT4 = [-.03,-.30,-.15,.15,-.36,-1.33,-.66,-.96,-.60,-.44, .30,-.30,-.74,-.60,-.36,0,-.44,-.50,-.60,.15, -.36,0,.60,.23,.90,.38,.38,.83,0,-.66, -1.18,-1.48,0,.45,.15,-.07,-.22,.23,.38,-.14, -.36,-.66,.38,-.30,-.66,-1.10,-.36,-.14,.38,0, .45,-.36,-.74,-.14,-.66,-.14,-.44,-.66,-.60,-.30, 0,.30,.15,.60,0,-.44,-.60,-.81,-.66,-.44, -.14,.15,.08,-.44,-1.03,-1.26,-.66,0,.90,.68, .53,.23,-.14,.15,-.22,-.44,.08,.15,.30,.45, .15,.38,.45,.42,.60];
const eunGISTEMP = [-.08,-.35,-.20,.10,-.42,-1.42,-.72,-1.02,-.66,-.50, .25,-.36,-.80,-.66,-.42,-.05,-.50,-.56,-.66,.10, -.42,-.05,.55,.18,.85,.32,.32,.78,-.05,-.72, -1.25,-1.55,-.05,.40,.10,-.12,-.28,.18,.32,-.20, -.42,-.72,.32,-.36,-.72,-1.16,-.42,-.20,.32,-.05, .40,-.42,-.80,-.20,-.72,-.20,-.50,-.72,-.66,-.36, -.05,.25,.10,.55,-.05,-.50,-.66,-.88,-.72,-.50, -.20,.10,.02,-.50,-1.10,-1.32,-.72,-.05,.85,.62, .48,.18,-.20,.10,-.28,-.50,.02,.10,.25,.40, .10,.32,.40,.36,.55];
const eunModels = [
[-.5,.6,-.9,.3,-.3,-1.2,.5,-.4,1.0,-.2,-.7,.2,.6,-1.0,.4,-.3,.8,-.6,.1,-1.1,.5,-.2,.7,-.5,.3,-.8,.4,-.2,.6,-1.0,.1,-.4,.7,-.6,.2,-.3,.5,.1,-.7,.4,.6,-.1,1.1,.2,.9,-.2,.9,.6],
[-1.4,-.2,-.9,.4,-.5,-1.6,-.3,.2,-1.1,-.4,.5,-.6,-1.3,.1,-.2,-1.3,.4,-.9,-.2,.3,-.5,-1.2,.1,-.8,.2,-.4,-1.0,-.2,.3,-.9,.3,-.5,-1.2,.1,-.4,.2,-.6,.4,-.3,.6,-.3,.8,-.1,.5,.1,.9,.3,.5],
[-.8,-2.1,-.3,-1.5,-.6,.2,-1.0,-1.8,-.2,-1.2,-.6,-1.5,.3,-.9,-1.6,-.4,-1.2,0,-.7,-1.4,-.6,-1.9,-.1,-.8,-1.3,-.2,-1.5,-.7,-1.0,.2,-.5,-1.1,-.3,-1.6,-.2,.4,-.8,-.2,-1.0,.1,.4,-.6,.3,-.4,.6,-.2,.5,.3],
[.2,-.7,.6,-1.1,-.2,.3,-.5,.8,-.9,.1,.4,-.3,.9,-.6,.2,-1.2,.5,-.4,.7,-.2,.4,-.8,1.0,-.1,.3,-.6,.6,-1.0,.3,-.4,.7,-.2,.4,-.7,1.0,-.1,.6,-.3,.8,.3,-.1,1.2,.4,.6,1.3,.5,1.2,.8],
[-.3,.8,-.6,.5,-1.3,.3,.9,-.2,1.3,-.5,.7,-.8,.4,1.0,-.4,.6,-1.0,.3,.8,-.3,.5,-.7,1.1,0,.4,-.9,.6,-.2,.9,-.5,.3,.8,-.4,.6,1.1,-.2,.7,1.3,.2,.9,1.5,.4,1.2,.7,1.9,.6,1.4,1.1],
[.9,1.3,.4,1.8,.6,1.1,.2,1.5,.5,1.2,.8,.3,1.0,.6,1.4,.2,.9,1.6,.5,1.2,.7,.3,1.5,.9,.4,1.1,.6,1.4,.2,.8,1.2,.5,-1.7,.9,.4,1.2,.7,1.6,1.0,.5,1.4,.9,1.7,1.2,2.4,1.6,2.0,1.8],
[-1.9,-.8,-1.5,-.3,-2.2,-.9,-1.3,-.4,-1.8,-.6,-1.1,-2.0,-.7,-1.4,-.2,-1.6,-.5,-1.2,-2.1,-.7,-1.5,-.3,-.9,-1.8,-.6,-1.3,-2.0,-.5,-1.1,-1.6,-.4,-.9,-1.4,-.3,-.8,-1.2,-.2,-.9,-1.5,-.4,-.7,-.1,-.6,.4,-.3,.2,-.4,.1],
[-1.0,-.3,-1.6,.1,-.8,-1.3,-.2,-.9,.3,-1.1,-.4,-1.6,.2,-.6,-1.0,-.2,-1.4,-.5,.2,-.9,-1.3,-.4,-.1,-1.0,-.6,.1,-1.2,-.3,-.8,.2,-.7,-1.1,-.2,-.6,.3,-.5,-.9,.2,-.3,-.7,.4,-.2,.6,-.1,.5,0,.5,.3],
[-.6,-1.5,-.2,-1.1,-2.0,-.5,-1.3,-.1,-.9,-1.7,-.3,-1.2,-.6,-2.1,-.4,-1.0,-.1,-1.4,-.7,-1.8,-.4,-1.1,-2.2,-.6,-1.3,-.2,-.9,-1.6,-.5,-1.2,-.1,-1.4,-.7,-2.0,-.4,-.9,.1,-1.1,-.6,-.2,-.9,-.3,.3,-.6,-.2,.2,-.5,.3],
[.4,1.0,-.2,.7,1.2,.1,.8,-.3,.9,.5,1.3,.2,.6,1.0,-.1,.4,.9,.2,.7,1.2,-.2,.5,1.1,.3,.8,.1,.6,1.0,-.3,.5,.9,.2,.7,-.2,.6,1.0,.3,.8,.5,1.2,.6,1.1,.3,1.4,.8,1.3,.9,1.2],
[-1.3,-.5,-2.0,-.8,-1.5,-.2,-1.1,-1.8,-.6,-1.3,-.3,-1.0,-1.9,-.5,-1.2,-.8,-.2,-1.5,-.6,-1.9,-1.0,-.4,-1.6,-.8,-.3,-1.4,-.7,-1.8,-.5,-1.1,-.2,-1.5,-.6,-1.0,-.3,-.8,-1.3,-.1,-.7,-1.1,.2,-.5,-.9,.1,-.3,.4,-.2,.3],
[-.2,.8,.3,1.1,-.4,.6,.2,.9,-.3,.7,.1,1.0,.4,-.2,.8,.3,.6,-.1,.9,.4,1.2,.2,.7,-.3,.5,1.0,.3,.8,-.1,.6,.3,.9,.4,1.1,.2,.7,.4,1.2,.6,.9,.5,1.2,.7,1.0,.6,1.3,.9,1.1],
[.3,-.4,1.0,.2,.7,-.3,1.2,.5,-.2,.9,.4,1.3,0,.6,1.0,-.3,.8,.2,1.1,.5,.9,.3,-.2,1.2,.6,1.0,.1,.7,.3,1.1,-.2,.8,.4,1.1,.5,.9,.2,1.2,.5,.8,1.0,.4,1.2,.6,1.0,.8,1.2,.9],
[-.1,.5,-.6,.9,.2,-.4,.7,.1,1.0,-.2,.6,.3,-.5,.8,.1,.5,-.3,.9,.2,.6,-.1,.8,.4,-.4,1.0,.3,.6,-.2,.7,.1,.5,-.3,.9,.2,.6,-.1,.8,.4,1.0,.2,.9,.5,1.1,.7,.9,1.0,.7,.8],
[-1.7,-1.0,-2.3,-.6,-1.4,-2.1,-.8,-1.6,-.3,-1.9,-1.2,-2.4,-.7,-1.5,-1.0,-2.2,-.9,-1.6,-.4,-1.8,-1.1,-2.3,-.7,-1.4,-.5,-1.9,-1.0,-2.2,-.8,-1.5,-.4,-1.8,-1.1,-.6,-2.0,-.9,-1.6,-.4,-1.2,-.7,-.2,-1.1,-.6,-.9,-.1,-.7,-.3,-.5],
[-.9,-1.8,-.4,-1.3,.1,-.8,-1.5,-.2,-1.0,-1.7,-.5,-.1,-1.2,-.6,-1.8,-.3,-.9,-1.4,0,-.6,-1.2,-.4,-1.9,-.7,-.1,-1.3,-.5,-1.0,-1.6,-.3,-.9,-1.4,0,-.6,-1.2,-.3,-.8,.2,-.5,-1.0,.2,-.4,-.9,.5,-.1,.5,.1,.3],
[.6,-.2,.9,.3,1.1,.5,-.1,.8,.4,1.2,.2,.7,1.0,.1,.6,1.1,.3,.8,-.2,.5,1.2,.4,1.0,.2,.7,-.1,.8,.3,1.1,.5,1.2,.4,.9,.2,1.0,.5,1.2,.4,1.0,.7,1.3,.6,1.0,.8,1.3,.9,1.2,1.0],
[-.4,.4,-.2,.7,.2,1.0,.5,.9,.1,.6,-.3,.5,.2,.8,-.1,.4,.7,0,.5,.2,.6,-.2,.4,.1,.8,.3,-.1,.5,.2,.7,0,.4,-.3,.6,.2,.5,.1,.6,-.2,.4,.1,.5,.2,.7,.3,.5,.2,.4],
[-1.2,-2.2,-.7,-1.6,-.3,-1.1,-2.0,-.5,-1.4,-.2,-1.7,-.8,-1.3,-2.3,-.6,-1.1,-.2,-1.5,-.8,-2.0,-.4,-1.3,-.7,-1.9,-.3,-1.0,-2.2,-.6,-1.4,-.1,-1.0,-.5,-1.6,-.2,-1.1,-.6,-1.4,-.1,-.9,-.4,.1,-.8,-.3,-.9,0,-.6,.2,-.3],
[-1.6,-.9,-2.1,-.5,-1.2,-.3,-1.7,-1.0,-.4,-1.5,-2.0,-.7,-1.1,-.3,-1.6,-.6,-1.3,-.2,-.9,-1.8,-.5,-1.2,-.8,-1.7,-.3,-1.0,-1.5,-.4,-1.1,-.7,-1.4,-.3,-.8,-1.3,-.2,-.9,-.4,-1.1,-.1,-.6,-.3,.1,-.8,-.2,.3,-.4,.3,0],
[-2.1,-1.3,-1.8,-.7,-1.5,-2.0,-.9,-1.4,-.5,-1.2,-1.9,-.6,-1.3,-.8,-1.7,-.4,-1.1,-2.2,-.7,-1.5,-1.0,-1.8,-.5,-1.3,-.8,-1.6,-.4,-1.1,-1.9,-.7,-1.5,-.2,-.9,-1.4,-.6,-1.5,-.2,-.9,-.4,-1.1,-.6,-1.0,-.3,0,-.5,-.8,-.2,-.5]
];

// ---------------- EuW ----------------
const euwHadCRUT4 = [-.07,-.22,-.10,-.22,-.14,-.18,-.29,-.44,-.33,.23, .38,-.29,-.14,-.07,.04,.19,.12,.15,0,.30, -.10,.08,.15,-.10,.15,.30,.27,.08,-.14,-.59, -.66,-.29,.53,.45,.60,.45,.60,.45,.68,.53, .38,.23,.08,-.14,.15,-.74,-.14,0,.53,.30, .60,-.14,-.44,-.14,-.29,.08,.15,-.10,-.22,0, -.07,0,.08,.12,.23,.15,0,-.22,-.29,-.18, .30,.45,.15,-.07,-.10,-.14,0,.68,.97,.90, .38,.75,.53,.68,.38,.60,.97,.93,1.12,1.0, .90,1.12,.83,.60,.65];
const euwGISTEMP = [-.20,-.35,-.25,-.35,-.28,-.32,-.42,-.58,-.48,.08, .22,-.42,-.28,-.22,-.10,.05,-.02,0,-.15,.15, -.25,-.08,0,-.24,0,.15,.12,-.08,-.30,-.75, -.82,-.45,.38,.30,.45,.30,.45,.30,.52,.38, .22,.08,-.08,-.30,0,-.86,-.28,-.15,.38,.15, .45,-.28,-.58,-.28,-.42,-.06,0,-.25,-.36,-.15, -.22,-.15,-.06,-.02,.08,0,-.15,-.36,-.44,-.32, .15,.30,0,-.22,-.24,-.28,-.14,.52,.82,.75, .22,.60,.38,.52,.22,.45,.82,.78,.96,.85, .75,.96,.68,.45,.50];
const euwModels = [
[-.2,.6,-.5,.3,-.8,.4,-.1,.7,-.4,.2,-.7,.5,0,.8,-.3,.3,-.6,.4,-.1,.6,-.4,.2,-.6,.5,0,.8,-.3,.3,-.6,.4,-.1,.6,.2,-.4,.5,.1,.6,-.2,.7,.3,.9,.2,.7,.4,1.1,.6,1.0,.7],
[-.6,.1,-.9,-.2,.4,-.5,.2,-.8,-.1,.5,-.3,.1,-1.0,-.2,.3,-.6,0,.4,-.3,.2,-.7,.1,-.4,.3,-.2,-.9,.1,-.5,-.2,.3,-.6,0,.4,-.3,.2,.6,-.1,.8,-.2,.3,.6,.1,.8,.3,.6,.9,.4,.6],
[-.9,-.2,-1.3,-.5,-.9,0,-1.1,-.4,-.8,-1.4,-.3,-.7,-1.2,-.4,-.9,-.1,-.6,-1.0,-.2,-.7,-1.3,-.4,-.8,-.2,-1.1,-.5,-.9,-1.3,-.4,-.8,-.1,-.6,-1.0,-.2,-.7,.1,-.3,-.8,.3,-.1,.4,-.2,.3,-.1,.4,.2,.5,.3],
[.1,-.6,.4,-.3,.7,0,-.4,.5,.1,.8,-.2,.4,-.6,.3,.7,-.1,.5,0,.6,.2,.9,-.2,.4,-.6,.3,.7,-.1,.5,0,.6,.2,.9,-.1,.4,.7,.2,.6,.3,1.0,.4,.9,.6,1.2,.5,1.0,.8,1.2,1.0],
[.3,.9,-.1,.6,.2,1.0,.4,-.2,.7,.3,1.1,.1,.6,-.3,.4,.8,.2,.6,-.1,.7,.4,1.0,.1,.5,.8,-.3,.4,.8,.2,.6,-.1,.7,.4,1.0,.5,1.3,.6,.9,.2,.7,1.0,.5,1.3,.7,1.1,1.4,.9,1.2],
[.5,1.1,.2,.8,1.3,.4,.9,1.4,.3,.7,1.2,.5,.8,1.5,.6,1.0,.3,.8,1.2,.5,.9,.1,.6,1.0,.3,.7,1.1,.4,.9,.2,.6,1.0,.3,-1.0,.5,.9,1.3,.6,-.5,.8,1.2,.7,1.5,1.0,1.8,1.3,1.9,1.2],
[-1.2,-.5,-1.4,-.8,-.2,-1.1,-.6,-1.3,-.4,-.9,-1.2,-.3,-.7,-1.1,-.4,-.8,-.2,-.7,-1.2,-.3,-.9,-.4,-1.0,-.2,-.7,-1.1,-.4,-.8,-.2,-.7,-.3,-.9,0,-.6,-.2,-.4,-.9,-.1,-.6,0,-.4,.2,-.2,.3,-.1,.3,0,.3],
[-.4,.2,-.7,.1,-.3,.4,-.6,-.1,.3,-.4,.1,-.8,-.2,.3,-.5,0,.4,-.2,.2,-.4,.5,-.3,.1,-.6,.2,-.2,.3,-.5,0,.4,-.2,.2,-.4,.5,0,.3,-.3,.4,.1,.6,0,.5,.2,.7,.3,.6,.4,.5],
[.4,-.3,.8,.1,.6,-.2,.9,.3,-.1,.7,.2,1.0,.4,-.2,.6,.9,.1,.5,-.1,.7,1.2,.3,.8,.1,.6,-.2,.6,.9,.1,.5,-.1,1.2,.4,.8,.3,1.0,.5,1.4,.7,.9,.4,1.0,.6,1.2,.8,1.0,.7,.9],
[.6,1.3,.3,.9,.5,1.1,.2,.8,1.2,.4,.9,.6,1.1,.3,.7,1.5,.4,.8,.5,1.1,.3,.7,.2,.8,.4,1.0,.5,.8,1.3,.9,1.1,.6,1.4,.9,1.5,1.1,.8,1.3,.9,1.4,1.0,1.6,1.2,1.5,1.1,1.7,1.3,1.5],
[-.9,-.3,-1.2,-.5,-1.4,-.6,-.1,-.9,-.4,-1.2,-.6,-1.0,-.2,-.8,-1.3,-.5,-.9,-.3,-.7,0,-.5,-1.1,-.2,-.6,-1.0,-.4,-.8,-1.3,-.5,-.2,-.9,-.3,-.7,0,-.5,.1,-.4,-.2,.3,-.3,-.4,.1,-.2,.4,0,.4,.2,.3],
[.2,.7,0,.9,.4,.7,.1,1.1,.5,.2,.9,.3,1.3,.5,.1,.7,.3,.9,.4,.6,1.0,.5,1.2,.8,.2,.6,.9,.3,.7,.1,.5,.8,.3,.9,.4,.6,1.0,.5,1.2,.8,1.4,.9,1.2,.8,1.5,1.1,1.4,1.2],
[.8,.2,1.0,.5,1.2,.3,.9,.6,1.1,.2,1.6,.4,.8,.5,1.0,-.3,.7,.2,.9,.4,1.1,.6,1.7,.5,1.0,.4,.9,.2,.7,1.0,.3,.8,.5,1.1,.4,.9,.6,1.1,.4,1.3,.9,1.2,.8,1.4,1.1,1.5,1.2,1.3],
[0,.5,-.3,.7,.2,.9,.1,.6,-.2,.8,.3,1.0,.5,.1,.7,.3,.6,-.1,.8,.4,.9,.2,.6,.4,1.0,.5,.1,.7,.3,.6,-.1,.8,.4,.9,.5,1.1,.7,.9,.4,1.0,.6,1.1,.7,1.2,.9,1.0,1.2,1.1],
[-1.3,-.7,-1.9,-1.0,-.5,-1.6,-.8,-1.2,-1.9,-.6,-1.1,-.4,-1.3,-.8,-1.5,-1.9,-.6,-1.1,-.4,-1.3,-.8,-1.5,-.6,-1.0,-.3,-.9,-.5,-1.2,-.7,-1.4,-.6,-1.0,-.3,-.9,-.5,-.2,-.7,0,-.4,-.9,.1,-.5,-.2,.2,-.4,.3,-.1,.2],
[-.5,-1.0,-.2,-.8,-.3,-1.1,-.4,0,-.9,-.3,-.7,-.1,-.8,-.4,-1.0,-.2,-.6,.1,-.4,-.8,0,-.3,-.9,-.2,-.6,-1.1,-.4,-.7,-.1,-.5,-.9,-.2,-.6,.1,-.4,-.8,0,-.3,.4,-.1,.2,-.3,.4,0,.5,.2,.6,.3],
[.7,.2,1.1,.4,.8,.1,.6,1.2,.3,.9,.5,.1,.8,1.1,.3,.7,.2,.9,.5,1.0,.6,1.2,.3,.8,.5,1.1,.3,.7,.2,.9,.5,1.0,.6,1.2,.8,1.1,.5,1.4,.8,1.0,1.2,.7,1.3,.9,1.4,1.1,1.3,1.0],
[-.1,.5,.2,.8,.4,1.0,.3,.7,.5,.1,.9,.4,.6,.2,.8,.4,.1,.5,.2,.7,.3,.8,.5,.9,.7,.2,.5,.1,.6,.3,.4,.8,.5,.1,.6,.3,.7,.4,.9,.5,.8,.5,.9,.6,1.0,.8,.9,.7],
[-.8,-.2,-1.1,-.4,-1.3,-.6,0,-.9,-.3,-1.0,-.5,-.8,-.1,-1.4,-.6,-.3,-.8,0,-.5,-1.1,-.2,-.6,-1.0,-.3,-.8,-1.2,-.4,-.7,-.1,-.6,-.3,-.8,0,-.5,.1,-.3,.2,-.2,.3,-.1,.3,-.1,.4,.1,.3,.4,.2,.4],
[-1.1,-.6,-.2,-1.0,-.4,-1.3,-.7,-.2,-1.1,-.5,-.9,-.3,-1.2,-.6,-.2,-.9,-.4,-.7,-1.1,-.3,-.8,-.2,-.6,-1.0,-.4,-.7,-.2,-1.2,-.5,-.9,-.3,-.7,0,-.5,-.2,-.6,.2,-.2,.4,0,.3,-.1,.5,.1,.4,.5,.3,.5],
[-.3,-.9,-.1,-.6,-1.0,-.4,-.8,-.2,-.6,-1.1,-.3,-.7,0,-.5,-.9,-.2,-.6,-1.0,-.1,-.5,-.9,-.3,-.7,-.1,-.6,-.9,-.2,-.5,-1.0,-.4,-.6,-.1,-.5,.2,-.3,-.1,.3,-.2,.1,.4,.1,.5,.2,.4,.3,.5,.2,.4]
];

// ---------------- Mex ----------------
const mexHadCRUT4 = [-.33,-.03,-.40,-.18,-.44,-.25,-.40,-.85,-.40,-.10, -.18,-.07,.04,-.10,-.33,-.07,.12,.01,-.10,.04, .08,-.10,.04,.12,.08,.19,.15,.23,.19,.34, .57,.19,.15,.23,.12,.08,.01,-.10,-.07,.04, .08,.15,.12,.04,-.14,.01,.42,.34,.42,.19, .01,.23,.04,.15,.04,-.03,.04,-.07,.08,-.18, .01,.08,-.10,-.25,-.40,-.10,.08,.19,.30,.19, .34,.23,.27,.30,.42,.30,.19,.27,.57,.42, .38,.45,.42,.49,.38,.64,.30,.04,.23,.30, .38,.49,.49,.48,.50];
const mexGISTEMP = [-.30,-.05,-.35,-.15,-.40,-.25,-.35,-.75,-.35,-.05, -.15,-.05,.05,-.05,-.30,-.05,.15,.05,-.05,.08, .12,-.05,.10,.18,.25,.22,.20,.28,.22,.36, .55,.22,.20,.28,.22,.30,.12,.02,0,.08, .12,.18,.15,.08,-.10,.05,.40,.38,.45,.25, .08,.28,.10,.20,.10,.02,.08,-.02,.10,-.15, .05,.10,-.05,-.20,-.35,-.08,.10,.20,.32,.22, .35,.25,.28,.32,.40,.30,.22,.28,.52,.40, .38,.42,.40,.45,.36,.58,.32,.08,.25,.32, .40,.50,.50,.48,.50];
const mexModels = [
[-.3,.1,-.4,-.1,-.2,.2,-.1,.1,-.2,.3,0,.3,-.1,.4,.1,.3,.1,.4,0,-.1,.3,0,.2,-.1,.1,.2,-.2,.1,-.1,0,.1,-.1,.2,0,.3,.1,.2,.4,.1,.3,.4,.2,.5,.3,.6,.7,.6,.7],
[-.5,-.2,-.6,-.4,0,-.3,-.5,-.1,-.4,.1,-.2,-.4,0,-.3,-.1,-.4,0,-.3,-.1,-.4,-.2,0,-.3,-.1,-.4,-.2,0,-.3,-.1,-.4,-.1,-.3,0,-.2,.1,.2,-.1,.1,-.1,.3,.1,.3,.2,.4,.3,.6,.5,.5],
[-.7,-.4,-.8,-.5,-.6,-.2,-.5,-.3,-.6,-.2,-.4,-.1,-.5,-.3,-.6,-.2,-.4,-.7,-.3,-.5,-.2,-.4,-.1,-.3,-.6,-.4,-.3,-.6,-.2,-.5,-.2,-.4,-.1,-.3,0,-.2,-.4,0,-.2,.1,0,-.1,.2,0,.3,.4,.5,.4],
[-.2,.1,-.3,0,.2,0,.3,-.1,.2,0,.3,-.1,.2,0,.4,.1,-.1,.3,0,.2,.1,-.1,.3,0,.2,-.2,.1,-.1,.2,0,.1,-.1,.2,.4,.1,.3,.5,.1,.4,.2,.5,.3,.6,.4,.7,.9,.8,.8],
[-.1,.2,.4,0,.3,.1,.5,.2,.9,.3,.1,.4,.2,.5,.3,.1,.4,.2,.5,0,.2,.4,.1,.3,0,.2,-.1,.3,.1,.2,0,.3,.1,.4,.2,.6,.3,.5,.2,.6,.4,.8,.6,.9,.7,1.0,.9,1.1],
[0,.3,.1,.5,.2,.6,.3,.9,.4,.7,.3,.6,.4,.2,.5,.8,.4,.6,.3,.5,.2,.5,.3,.6,.2,.4,.1,.5,.3,.4,.2,.5,.3,.6,.4,.8,.5,.7,.4,.9,.5,.9,.8,1.0,1.1,1.2,1.1,1.0],
[-.8,-.5,-.7,-.4,-.6,-1.2,-.6,-.4,-.7,-.3,-.6,-.4,-.7,-.3,-.5,-.7,-.4,-1.0,-.5,-.7,-.3,-.6,-.4,-.8,-.5,-.3,-.6,-.4,-.7,-.4,-.2,-.5,-.3,-.6,-.1,-.3,-.5,-.2,0,-.3,0,-.2,.1,.2,0,.4,.3,.3],
[-.4,-.1,-.3,-.6,-.2,0,-.3,-.1,-.4,0,-.3,-1.0,-.2,-.4,0,-.3,-.1,-.4,0,-.3,-.1,-.4,-.1,-.3,0,-.2,.1,-.3,0,-.2,.1,-.2,0,.3,0,.2,-.1,.4,0,.2,.3,.5,.1,.4,-.1,.5,.3,.5],
[-.2,-.5,-.1,-.3,0,-.4,-.1,-.3,.1,-.3,-.6,-.1,-.3,0,-.4,-.2,-.5,-.1,.1,-.2,-.4,-.1,-.3,0,-.4,-.2,-.5,-.1,.1,-.2,.2,-.1,0,.3,-.2,.1,.3,0,.2,.5,.3,.6,.4,.8,.5,.6,.7,.6],
[.2,.5,.1,.7,.3,.5,.2,.6,.4,.1,.5,.3,.6,.2,.5,.4,.2,.5,.3,.6,.2,.4,.1,.5,.3,0,.3,.1,.4,.2,.4,.6,.3,.7,.4,.3,.6,.4,.9,.5,.7,.9,1.1,1.3,1.0,1.2,1.0,1.1],
[-.6,-.3,-.5,-.2,-.6,-.1,-.4,-.2,-.5,-.3,-.1,-.4,-.2,-.5,-.3,-.6,-.2,-.4,0,-.2,-.5,-.3,-.1,-.4,-.2,-.5,-.3,-.6,-.2,-.4,0,-.2,.1,-.3,-.1,.3,.1,.2,0,.3,.1,.4,.2,.5,.3,.5,.4,.5],
[.1,.4,.2,.5,.1,.6,.3,.5,.2,.4,.6,.3,.5,.2,.4,.1,.3,.5,.2,.6,.4,.2,.5,.3,.1,.4,.2,.5,.1,.3,.5,.2,.6,.4,.3,.7,.5,.8,.6,.4,.7,.9,.6,1.0,.8,1.0,.9,1.0],
[.3,-.8,.5,.2,.7,.4,.6,.3,.8,.4,.6,.2,.5,.3,.1,.4,.2,.5,.3,.9,.4,.6,.2,.5,.3,.4,.2,.5,.3,.1,.4,.2,.5,.3,.9,.4,-.5,.6,.8,.5,.7,.9,.8,1.1,.9,1.2,1.0,1.1],
[.1,.3,0,.4,.2,.5,.1,.4,.6,.2,.4,.1,.5,.3,0,.3,.1,.4,.2,.5,.7,.4,.2,.5,.3,0,.3,.1,.4,.2,.5,.3,.6,.4,.2,.5,.7,.4,.9,.6,.8,1.0,.9,1.2,1.0,1.1,1.0,1.2],
[-.4,-.7,-.2,-.5,-.1,-.4,-.2,-.5,-.1,-.3,0,-.4,-.7,-.2,-.4,-.1,-.3,0,-.2,.2,0,-.3,-.1,-.4,-.2,-.5,-.1,-.3,0,-.2,.2,0,.3,.1,.4,.2,.5,.6,.4,.8,.6,1.0,1.4,1.1,.9,1.2,1.0,.9],
[-.3,0,-.4,-.1,.2,-.2,.1,-.3,0,.2,-.1,.1,-.2,0,-.4,-.1,.1,-.2,.2,0,.3,-.1,.2,0,-.2,-.1,.2,0,-.3,.1,.2,0,.3,-.1,.2,.3,.5,.4,.6,.3,.6,.5,.8,.9,.7,.8,.7,.9],
[.2,.4,.6,.3,.5,.2,.7,.4,.6,.3,.5,.7,.3,.1,.4,.2,.5,.3,.6,.4,.7,.5,.2,.4,.6,.3,.1,.4,.2,.5,.3,.6,.4,.7,.5,.6,.9,.5,.8,.7,.9,1.1,1.2,1.0,1.3,1.1,1.0,1.2],
[.1,.4,.2,.5,.3,.6,.4,.2,.5,.3,.6,.4,.2,.4,.1,.3,.5,.2,.6,.3,.4,.1,.3,0,.2,-.1,.3,.1,.4,.2,.1,.4,.2,.5,.3,.2,.4,.6,.3,.5,.7,.4,.8,.5,.6,.7,.5,.6],
[-.5,-.2,-.6,-.3,0,-.4,-.1,-.3,-.6,-.2,-.4,-.1,-.3,-.9,-.2,-.5,-.1,-.3,0,-.4,-.2,-.5,-.1,-.3,-.6,-.2,-.4,-.1,-.3,0,-.3,-.1,.2,-.1,.1,.3,0,.2,.4,.1,.3,.5,.6,.4,.6,.7,.5,.6],
[-.9,-.6,-.4,-.8,-.5,-.7,-.3,-.6,-.4,-.8,-.5,-.3,-.6,-.2,-.5,-.3,-.6,-.2,-.4,-.7,-.3,-.5,-.2,-.6,-.4,-.8,-.5,-.3,-.6,-.4,-.2,-.5,-.3,-.1,-.4,-.2,0,-.3,.1,-.1,.2,.3,.1,.4,.3,.5,.6,.5],
[-.4,-.1,-.3,0,-.2,.1,-.2,0,-.3,-.1,.1,-.2,0,-.3,-.1,-.4,0,-.2,.1,-.1,.2,-.1,.1,-.2,0,-.3,-.1,.1,-.2,0,.1,-.1,.2,0,.3,.1,-.1,.2,.4,.1,.3,.5,.3,.2,.4,.5,.4,.5]
];

// ---------------- SAf ----------------
const safHadCRUT4 = [-.40,-.10,.04,.23,.12,-.03,-.14,-.25,-.10,.12, .04,-.10,.08,-.25,-.14,-.07,-.14,-.25,-.10,-.18, .04,-.25,.16,.04,-.18,-.03,-.22,.04,.34,.64, .71,.49,.12,.34,.19,-.03,.27,.19,.34,.04, .27,.12,.04,-.33,-.48,-.40,.04,.16,.12,.08, .19,.27,.04,-.18,-.14,.12,-.07,.19,.34,-.03, .27,.19,-.07,-.18,-.10,.04,.19,.19,-.03,.12, .34,.64,.49,.42,.49,.64,.42,.34,.49,.64, .86,.71,.49,.34,.27,.42,.79,.42,.49,.57, .57,.71,.79,.86,.90];
const safGISTEMP = [-1.15,-.85,-.63,-.52,-.48,-.55,-.70,-.85,-.63,-.48, -.40,-.52,-.63,-.78,-.63,-.52,-.63,-.70,-.63,-.55, -.44,-.63,-.48,-.70,-.89,-.63,-.40,-.55,-.10,.12, .42,-.03,-.25,-.10,-.33,-.40,-.25,-.10,-.33,-.33, -.25,-.40,-.63,-.89,-.63,-.25,-.07,-.03,-.07,-.10, -.18,-.25,-.33,-.22,-.10,-.18,-.07,.04,-.18,-.03, -.10,-.25,-.40,-.33,-.18,-.07,-.03,-.18,-.07,.12, .34,.30,.23,.30,.38,.27,.23,.30,.42,.64, .49,.34,.19,.04,.19,.64,.34,.42,.49,.53, .64,.71,.75,.80,.82];
const safModels = [
[-.3,.2,-.1,.3,-.2,0,.4,.1,-.2,.3,0,.5,.2,-.1,.3,0,.4,.1,.3,-.1,.5,.2,-.1,.3,0,.4,.1,.3,-.2,.2,.1,.4,.3,.5,.2,.6,.3,.4,.6,.2,.6,.4,.7,.5,.8,.9,1.0,.9],
[-.6,-.2,-.5,0,-.3,.1,-.4,-.1,.2,-.3,0,-.4,.1,-.2,.2,-.1,.3,0,-.3,.1,-.2,.2,-.1,.3,0,-.3,.1,-.2,.2,-.1,.3,0,.4,.1,-.1,.2,.4,.1,.5,.2,.5,.2,.6,.4,.7,.5,.7,.6],
[-.8,-.4,-.7,-.2,-.6,-.3,.1,-.5,-.2,-.6,-.1,-.4,-.7,-.2,-.5,-.3,-.6,-.1,-.4,-.2,-.5,-.1,-.4,-.7,-.3,-1.6,-.3,-.5,-.1,-.3,0,-.2,.2,-.1,.3,0,.2,-.1,.3,.1,.2,0,.3,.1,.5,.3,.5,.4],
[-.4,0,-.3,.2,-.1,.3,-.2,.1,.4,0,.3,-.1,.2,.5,0,.3,.1,.4,.2,.6,.3,-.1,.2,.5,0,.3,.1,.4,.2,.6,.3,.1,.4,.2,.6,.3,.5,.2,.6,.3,.8,.5,1.1,.7,.9,1.1,.9,1.0],
[-.2,.2,0,.4,.1,.5,.2,-.1,.3,.6,.2,.4,0,.3,-.2,.2,.5,.1,.4,.2,.7,.4,.1,.3,0,.4,.2,.5,.1,.4,.2,.5,.1,.4,.7,.3,.5,.2,.7,.4,.9,.6,.8,.6,.9,1.0,.8,1.1],
[0,.4,.1,.6,.2,.5,.8,.3,.6,.1,.5,.3,.7,.2,.5,.1,.4,.2,.6,.3,.7,.5,.1,.4,.2,.6,.3,.5,.1,.4,.2,.6,.3,.7,.5,.3,.6,.4,.7,.5,.9,.7,1.0,.8,1.1,.9,1.2,1.0],
[-1.0,-.5,-.8,-.3,-.7,-.4,-.1,-.6,-.3,-.8,-.2,-.5,-.7,-.3,-.5,-.1,-.4,0,-.3,-.6,-.2,-.5,-.1,-.4,-.6,-.2,-.5,-.1,-.4,0,-.3,-.1,-.4,0,-.2,.1,-.1,.3,0,.2,.1,.3,.1,.4,.2,.4,.3,.5],
[-.5,-.1,-.4,0,-.3,.2,-.2,.1,-.4,0,-.2,.2,-.3,0,.3,-.1,.2,0,-.3,.1,.3,-.1,.2,0,-.3,.1,.3,-.1,.2,0,.3,.1,.4,0,.2,.3,.1,.4,.2,.6,.4,.2,.6,.8,.5,.7,.6,.5],
[-.2,-.6,0,-.3,.2,-.1,.4,0,-.2,.3,-.1,.2,-.3,.1,-.2,.3,0,.2,-.1,.4,.1,-.3,.2,.5,.1,-.2,.3,0,.2,-.1,.4,.1,.5,.2,.3,.1,.5,.3,.6,.4,.5,.3,.6,.5,.8,.6,.5,.7],
[.3,.7,.4,.9,.5,.2,.6,.9,.4,1.0,.5,.8,.4,.9,.6,1.0,.5,1.7,.6,.8,.3,.7,.4,.8,.5,.9,.6,.3,.7,1.0,.5,.9,.6,1.0,.7,.9,.6,1.2,.7,1.0,.8,1.2,1.0,1.5,1.2,1.6,1.3,1.4],
[-.7,-.3,-.6,-.2,-.5,-.1,-.4,-.7,-.2,-.5,-.1,-.4,-.6,-.2,-.5,-.8,-.3,-.5,-.1,-.4,-.6,-.2,-.5,-.8,-.3,-.1,-.5,-.2,-1.0,-.3,-.1,-.3,0,-.2,.1,-.1,.2,0,.3,.1,.2,.4,.1,.5,.3,.6,.4,.5],
[.2,.6,.3,.8,.4,.7,.2,.5,.9,.3,.6,.2,.7,.4,.8,.3,.6,.2,.7,.4,.8,.5,.3,.7,.4,.6,.2,.7,.4,.8,.5,.3,.7,.4,.8,.5,.9,.6,1.0,.7,1.0,.8,1.2,1.0,1.3,1.1,1.3,1.2],
[.5,1.0,.6,1.2,.7,1.4,.8,.5,1.1,.6,1.2,.4,.9,.5,1.0,.6,.3,.8,.5,1.1,.7,1.2,.6,.9,.5,.8,.4,1.0,.6,.9,.4,.8,.5,1.1,.7,1.0,.6,1.2,.8,1.1,.9,-.7,1.1,1.4,1.2,1.6,1.3,1.7],
[.1,.5,.2,.7,.3,.6,.1,.5,.8,.3,.6,.2,.5,.1,.4,.7,.2,.5,.3,.6,.4,.8,.3,.6,.2,.5,.1,.4,.7,.2,.5,.3,.6,.4,.8,.6,.3,.7,.5,.8,.6,1.0,.8,1.1,.9,1.1,.9,1.0],
[-.6,-1.3,-.4,-.8,-.2,-.6,-.3,-.9,-.1,-.5,-.2,-.6,0,-.4,-.7,-.2,-.5,-.1,-.3,0,-.2,-.6,-.3,-.9,-.2,-.5,-.1,-.4,-.7,-.2,-.5,-.1,-.3,0,-.4,-.2,.2,-.1,.3,0,-.2,.3,-.9,.2,.4,.2,.5,.3],
[-.4,-.8,-.2,-.5,-1.0,-.3,0,-.4,-.6,-.1,-.3,.1,-.4,-.7,-.2,-.4,0,-.5,-.2,.1,-.1,-.4,.1,-.3,-.6,-.2,-.4,0,-.5,-.2,.1,-.1,.3,-.2,.1,.2,-.1,.3,.5,.2,.5,.3,.6,.8,.5,.8,.6,.7],
[.3,.8,.4,1.0,.5,.2,.7,.4,.9,.5,.3,.8,.4,.1,.6,.3,.7,.4,.8,.5,.9,.6,.3,.7,.4,.8,.5,.2,.6,.9,.4,.7,.3,.8,.5,.9,.6,1.0,.7,1.1,.8,1.0,1.4,1.1,1.3,1.5,1.2,1.4],
[.2,.5,.1,.4,.6,.3,.5,.2,.4,.1,.5,.3,.6,.2,.4,0,.3,.1,.4,.2,.5,.3,.6,.2,.4,.1,.5,.3,.6,.2,.4,0,.3,.1,.4,.2,.5,.3,.6,.4,.6,.3,.7,.4,.6,.7,.5,.7],
[-.5,-.1,-.4,.1,-.3,0,.3,-.2,.1,-.4,0,-.3,.2,-.1,.1,-.3,0,.2,-.1,.3,0,.4,-.2,.1,-.3,.2,-.1,.1,-.3,0,.2,-.1,.3,0,.4,.2,.5,0,.4,.2,.6,.3,.6,.4,.7,.5,.6,.4],
[-.9,-.4,-.7,-.2,-.6,-.3,-.8,-.4,-.1,-.6,-.3,-.5,-.1,-.4,-.6,-.2,-.4,-.1,-.6,-.3,-.5,-.1,-.4,-.6,-.2,-.4,-.6,-.2,-.4,0,-.2,.1,-.3,0,-.2,.1,-.1,.2,-.1,.3,.1,.3,.2,.4,.2,.5,.4,.3],
[-.3,.1,-.2,.3,0,.4,.1,.3,0,-.3,.2,0,.3,-.1,.2,0,.4,.2,-.1,.3,.5,.1,.3,0,.2,-.1,.2,.4,0,.3,.5,.1,.4,.2,.6,.3,.1,.5,.3,.6,.4,.3,.7,.5,.6,.8,.6,.7]
];

// ---------------- USA ----------------
const usaHadCRUT4 = [.12,-.25,-.62,-.85,-.10,-.07,-.55,-1.15,-.48,.04, .64,.86,.19,-.25,-.62,-.03,.12,-.10,-.40,.04, .71,.94,.49,.79,.42,.57,.27,.64,.49,.19, .42,.27,.23,.34,.12,.42,.19,.30,.12,-.10, -.25,.42,.71,.57,.19,.12,.08,.08,.19,.12, .15,.08,.04,-.07,-.18,-.18,-.14,-.14,-.14,-.18, -.25,.19,.30,.04,-.10,.12,-.10,-.33,.04,.34, .04,-.18,.12,-.10,.42,.71,.64,.34,.04,.42, .64,-.25,.04,.34,.04,.42,1.09,.94,.71,.64, .79,.64,.60,.71,.70];
const usaGISTEMP = [.05,-.32,-.70,-.95,-.18,-.15,-.62,-1.22,-.55,-.05, .55,.78,.10,-.32,-.70,-.10,.05,-.18,-.48,-.05, .62,.86,.40,.70,.34,.48,.18,.56,.40,.10, .34,.18,.15,.25,.04,.34,.10,.22,.04,-.18, -.32,.34,.62,.48,.10,.04,0,0,.10,.04, .06,0,-.04,-.15,-.25,-.25,-.22,-.22,-.22,-.25, -.32,.10,.22,-.04,-.18,.04,-.18,-.42,-.04,.25, -.04,-.26,.04,-.18,.34,.62,.55,.25,-.04,.34, .55,-.32,-.04,.25,-.04,.34,1.0,.86,.62,.56, .70,.56,.52,.62,.62];
const usaModels = [
[-.4,.3,-.6,.5,-.2,.6,-.1,.4,-.5,.2,.6,-.3,.5,0,-.4,.3,-.2,.4,-.1,.5,-.3,.2,.6,-.1,.3,-.4,.2,-.2,.3,-.5,.1,.4,-.2,.3,.6,.2,-.3,.7,.3,.5,.7,.3,.9,.5,1.1,.6,1.2,1.0],
[-.8,-.2,-.5,.1,-.7,0,-.4,.3,-.2,-.6,.1,-.3,-.7,0,-.5,.2,-.3,.1,-.4,.3,-.6,0,-.3,.2,-.5,-.1,-.5,0,-.7,-.2,-.3,.1,-.4,.3,-.1,.4,0,.5,.1,.3,.6,.2,.8,.4,.7,.9,.5,.8],
[-1.0,-.4,-1.3,-.2,-.8,-.5,-1.1,-.3,-.7,.1,-.5,-.9,-.2,-.6,-1.0,-.3,-.7,0,-.4,-.9,-.2,-.6,-1.0,-.3,-.7,-1.1,-.4,-.8,-.2,-.6,-.3,-.7,.1,-.4,-.1,.2,-.3,.4,0,.3,.2,.6,.1,.5,.3,.7,.5,.6],
[-.3,.4,-.1,.7,.2,-.2,.6,.1,.4,-.3,.5,0,.3,-.5,.1,.4,-.1,.5,.2,.8,.3,-.2,.5,0,.3,-.5,.1,.4,-.1,.5,.2,.8,.3,-.1,.6,.4,1.0,.5,.8,.6,1.0,.7,1.3,.9,1.2,1.3,1.0,1.2],
[.2,-.5,.6,0,.9,.3,-.3,.7,.2,1.5,.4,-.2,.6,.1,-.4,.3,-.6,.2,-.1,.5,.8,.1,.5,-.2,.4,.6,0,-.3,.4,.7,.1,.5,-.1,.6,.9,.3,.8,.4,.9,1.1,.5,1.0,.7,1.2,.9,1.4,1.1,1.2],
[.5,1.0,.2,.8,.4,1.1,.6,.3,.9,.5,1.2,.4,.8,.3,.7,.1,.6,.9,.4,1.0,.6,1.3,.5,.8,.3,.7,.1,.6,.9,.4,1.0,.6,1.3,.8,.5,1.0,.6,1.3,.8,1.1,1.5,1.0,1.3,1.6,1.2,1.5,1.3,1.4],
[-1.5,-.8,-1.8,-.6,-1.2,-.4,-1.6,-.7,-1.1,-.3,-.9,-1.4,-.5,-1.0,-.2,-.8,-1.3,-.4,-.9,-.1,-.6,-1.1,-.4,-.9,-1.3,-.5,-1.0,-1.6,-.7,-1.2,-.4,-.9,-.1,-.6,-1.0,-.2,-.7,0,-.4,.2,-.3,.1,-.2,.4,0,.5,.2,.4],
[-.6,0,-.9,-.3,.2,-.7,-.1,-1.2,-.4,0,-.8,-.2,.3,-.5,-.1,-.6,0,-.4,.2,-.3,-.8,-.1,-.5,.1,-.4,-.9,-.2,-.6,0,-.4,-.1,-.6,0,-.3,.2,-.2,.4,0,.6,.2,.4,.8,.3,.6,.2,.7,.5,.6],
[-.4,.2,-.8,-.1,-1.2,-.3,.1,-.6,-.2,-1.0,-.4,0,-.6,-1.5,-.2,-.7,.1,-.4,-.9,-.1,-.5,.2,-.3,-.8,0,-1.5,-.6,-.2,-.9,-.4,.1,-.4,-.9,-.1,-.5,.3,-.2,.1,.5,-.1,.5,.1,.6,.3,.8,.6,.9,.7],
[.4,1.3,.6,1.0,.3,.8,1.1,.5,.9,.2,.7,1.0,.4,.8,.1,.5,.9,.3,.7,1.1,.5,.9,.2,.6,.1,.3,.7,-.1,.4,.8,.2,.6,.9,.5,1.1,.7,1.0,.6,1.3,.9,1.4,1.0,1.7,1.2,1.9,1.5,1.8,1.4],
[-1.1,-.5,-1.4,-.7,-1.0,-.2,-.8,-1.3,-.4,-.9,-.3,-1.1,-.6,-1.2,-.5,-.1,-.7,-.3,-.8,-.2,-.5,-1.0,-.3,-.8,-.1,-.6,-1.9,-.4,-.9,-.2,-.7,-.3,-.8,-.2,-.5,0,-.4,.1,-.2,.4,.1,.5,-.1,.3,.6,.4,.7,.5],
[.3,.8,0,.6,1.0,.4,.7,.1,.9,.5,.2,.8,.4,1.0,.3,.6,.2,.7,.4,.9,.5,.2,.8,.4,.6,.1,.5,.2,.6,0,.4,.7,.3,.8,.5,.9,.6,1.1,.7,1.0,.8,1.3,1.0,1.5,1.1,1.3,1.6,1.2],
[.7,.2,.9,.4,1.1,.6,.3,.8,.5,1.0,.2,.7,.4,.9,.6,.1,.8,.4,1.0,.5,1.2,.6,.3,.8,.4,.9,.3,.6,.1,.5,.2,.7,.4,1.0,.5,.9,1.2,.6,1.6,.8,-.1,1.0,1.4,.7,1.2,1.6,1.2,1.4],
[.2,.7,.4,.9,.3,.6,1.0,.4,.8,.2,.6,.9,.3,.7,.1,.5,.2,.8,.4,.9,.6,1.1,.4,.7,.2,.5,.1,.4,.7,.3,.5,.2,.7,.4,.9,.6,1.1,.7,1.3,.9,.7,1.2,1.0,1.4,1.1,1.3,1.7,1.2],
[-.9,-.3,-1.2,-.6,-.1,-.8,-1.1,-.4,-.9,-.2,-.7,-1.3,-.5,-.9,-.3,-.6,-1.0,-.4,-.8,-.2,-.7,-1.1,-.4,-.9,-1.3,-1.8,-.6,-.9,-.2,-.7,-.4,-.9,-.1,-.5,-2.0,-.3,-.8,-.1,-.5,.2,-.3,.1,-.2,.4,.1,.5,.2,.3],
[-.5,.1,-.8,-.2,.3,-.4,-.1,-.7,.2,-.3,.1,-.5,-.2,.3,-.4,0,-.6,.2,-.3,.1,-.5,-.2,.3,-.4,-.1,-.9,.1,-.4,-.1,.3,-.3,.2,-.1,.6,.1,.4,.8,.3,.6,.2,.7,.3,.9,.6,1.0,.6,.9,.8],
[.3,1.4,.5,1.0,.4,.8,.2,.7,1.1,.4,.9,.3,.7,.2,.6,1.0,.3,.8,.5,.2,.9,.5,1.0,.3,.7,.2,.6,.1,.5,.9,.3,.8,.5,.2,.9,.5,1.0,.7,.4,1.2,.8,1.3,.9,1.5,1.1,1.4,1.2,1.5],
[0,.5,.2,.8,.4,.1,.6,.3,.9,.5,.2,.7,.4,.1,.6,.3,-.1,.5,.2,.7,.3,.8,.5,.9,.2,.6,.3,-.1,.4,.2,.5,0,.6,.3,.7,.4,.8,.5,.9,.6,1.0,.7,1.1,.8,1.2,1.0,1.3,1.0],
[-.7,-.1,-1.0,-.4,0,-.6,-.2,-.9,-.3,-.7,0,-.5,-1.0,-.3,-.7,-.1,-.5,-.2,-.8,.1,-.3,-.7,0,-.5,-.9,-.3,-.7,-.1,-.5,-.8,-.2,.1,-.5,0,-.3,.2,-.2,.3,0,.5,.2,.6,.3,.7,.5,.8,.6,.7],
[-1.3,-.6,-1.0,-1.7,-.8,-.3,-1.2,-.5,-.9,-.2,-1.1,-.6,-.3,-.9,-.4,-1.2,-.5,-.1,-.7,0,-.4,-.9,-.2,-.6,-1.1,-.3,-.8,-.4,-1.2,-.5,-.1,-.7,0,-.4,-.9,-.2,.3,-.3,.2,-.1,.4,0,.6,.2,1.6,.5,.9,.6],
[-.3,-.9,-.1,-.6,.2,-.4,-.8,0,-.5,-.2,.1,-.7,-.3,.2,-.6,-.1,-.4,.3,0,-.3,-.6,.2,-.1,-.5,-.2,-.7,-.1,-.4,.1,-.3,-.5,0,-.2,.3,-.1,.2,-.2,.4,.1,.5,.2,.6,.3,.7,.4,.8,.5,.7]
];

// ---------------- build ----------------
const panelObs = [[gblHadCRUT4,gblGISTEMP],[amaHadCRUT4,amaGISTEMP],[ausHadCRUT4,ausGISTEMP],[chiHadCRUT4,chiGISTEMP],[eunHadCRUT4,eunGISTEMP],[euwHadCRUT4,euwGISTEMP],[mexHadCRUT4,mexGISTEMP],[safHadCRUT4,safGISTEMP],[usaHadCRUT4,usaGISTEMP]];
const panelModels = [gblModels,amaModels,ausModels,chiModels,eunModels,euwModels,mexModels,safModels,usaModels];

const colLeft = [48, 392, 737];
const rowTop = [23, 280, 541];
const plotW = 304, plotH = 224, axW = 48, padTop = 12, axH = 32, padRight = 8;

Chart.defaults.font.family = "'Liberation Sans', Arial, sans-serif";
const wrap = document.getElementById('wrap');

const boxPlugin = {
  id: 'box',
  afterDatasetsDraw(chart) {
    const a = chart.chartArea, ctx = chart.ctx;
    ctx.save();
    ctx.strokeStyle = '#333';
    ctx.lineWidth = 2;
    ctx.strokeRect(a.left, a.top, a.right - a.left, a.bottom - a.top);
    ctx.restore();
  }
};

function obsSeries(vals) {
  return vals.map((v, i) => ({ x: firstYear + i, y: v }));
}
function modelSeries(vals) {
  return modelYears.map((yr, i) => ({ x: yr, y: vals[i] })).filter(p => p.y !== undefined);
}

panelNames.forEach((name, p) => {
  const r = Math.floor(p / 3), c = p % 3;
  const cv = document.createElement('canvas');
  const W = axW + plotW + padRight, H = padTop + plotH + axH;
  cv.width = W; cv.height = H;
  cv.style.left = (colLeft[c] - axW) + 'px';
  cv.style.top = (rowTop[r] - padTop) + 'px';
  cv.style.width = W + 'px'; cv.style.height = H + 'px';
  wrap.appendChild(cv);

  const datasets = [];
  obsNames.forEach((on, k) => {
    datasets.push({ label: on, data: obsSeries(panelObs[p][k]), borderColor: obsColors[k], borderWidth: 3, pointRadius: 0, tension: 0, fill: false });
  });
  for (let m = modelNames.length - 1; m >= 0; m--) {
    datasets.push({ label: modelNames[m], data: modelSeries(panelModels[p][m]), borderColor: modelColors[m], borderWidth: 1, pointRadius: 0, tension: 0, fill: false });
  }

  new Chart(cv, {
    type: 'line',
    data: { datasets },
    options: {
      responsive: false, animation: false, devicePixelRatio: 1,
      layout: { padding: { left: 0, top: padTop, right: padRight, bottom: 0 } },
      plugins: { legend: { display: false }, tooltip: { enabled: false }, title: { display: false } },
      scales: {
        x: {
          type: 'linear', min: 1911, max: 2005.5,
          afterBuildTicks: s => { s.ticks = xTickYears.map(v => ({ value: v })); },
          afterFit: s => { s.height = axH; },
          ticks: { autoSkip: false, maxRotation: 0, minRotation: 0, padding: 2, color: '#111', font: { size: 17 },
                   callback: v => { const i = xTickYears.indexOf(v); return i >= 0 ? xTickLabels[i] : ''; } },
          grid: { display: true, drawOnChartArea: false, drawTicks: true, tickLength: 4, color: '#333', lineWidth: 1.5 },
          border: { display: false }
        },
        y: {
          min: -2.5, max: 2.5,
          afterBuildTicks: s => { s.ticks = yTickValues.map(v => ({ value: v })); },
          afterFit: s => { s.width = axW; },
          ticks: { autoSkip: false, padding: 2, color: '#111', font: { size: 17 }, callback: v => String(v) },
          grid: { display: true, drawOnChartArea: false, drawTicks: true, tickLength: 4, color: '#333', lineWidth: 1.5 },
          border: { display: false }
        }
      }
    },
    plugins: [boxPlugin]
  });

  const t = document.createElement('div');
  t.className = 'ptitle';
  t.textContent = name;
  t.style.left = (colLeft[c] + 9) + 'px';
  t.style.top = (rowTop[r] + 8) + 'px';
  wrap.appendChild(t);
});

// ---------------- legend (HTML) ----------------
const legendNames = obsNames.concat(modelNames);
const legendColors = obsColors.concat(modelColors);
const legSwatchX = [37, 205, 442, 638, 855];
const legTextX = [65, 233, 468, 667, 883];
const legRowY = 818, legRowStep = 21.8;
legendNames.forEach((n, i) => {
  const col = Math.floor(i / 5), row = i % 5;
  const cy = legRowY + row * legRowStep;
  const sw = document.createElement('div');
  sw.className = 'sw';
  sw.style.background = legendColors[i];
  sw.style.left = legSwatchX[col] + 'px';
  sw.style.top = (cy - 7.5) + 'px';
  wrap.appendChild(sw);
  const tx = document.createElement('div');
  tx.className = 'lt';
  tx.textContent = n.replace(/-/g, '\u2212');
  tx.style.left = legTextX[col] + 'px';
  tx.style.top = (cy - 9) + 'px';
  wrap.appendChild(tx);
});
</script>
</body>
</html>
